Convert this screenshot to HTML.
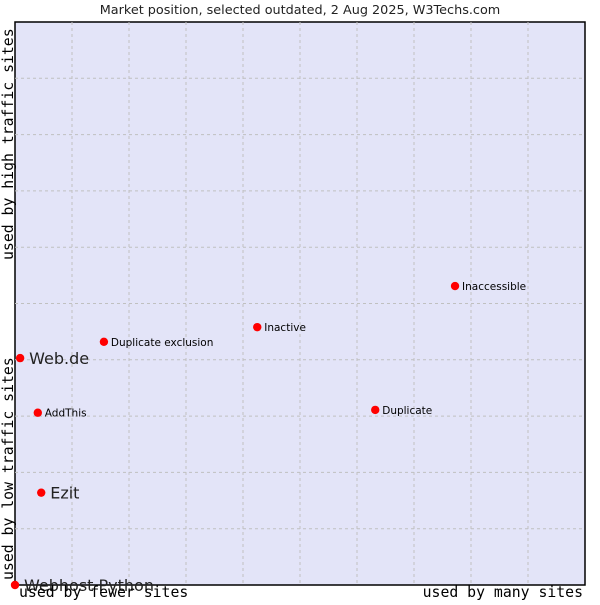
<!DOCTYPE html>
<html><head><meta charset="utf-8"><style>
body{margin:0;background:#fff}
svg text{font-family:"DejaVu Sans","Liberation Sans",sans-serif}
.mono{font-family:"DejaVu Sans Mono","Liberation Mono",monospace}
</style></head><body>
<svg id="chart" width="600" height="600">
<text x="300" y="14" text-anchor="middle" font-size="12.8" fill="#222">Market position, selected outdated, 2 Aug 2025, W3Techs.com</text>
<rect x="15" y="22" width="570" height="563" fill="#e3e4f8" stroke="#000" stroke-width="1.5"/>
<g id="grid"></g>
<g id="pts"></g>
<text class="mono" x="19" y="597" font-size="14.8" fill="#000">used by fewer sites</text>
<text class="mono" x="583" y="597" font-size="14.8" text-anchor="end" fill="#000">used by many sites</text>
<text class="mono" transform="translate(13,580) rotate(-90)" font-size="14.8" fill="#000">used by low traffic sites</text>
<text class="mono" transform="translate(13,260) rotate(-90)" font-size="14.8" fill="#000">used by high traffic sites</text>
</svg>
<script>
const names=["Web.de","AddThis","Ezit","Webhost Python","Duplicate exclusion","Inactive","Duplicate","Inaccessible"];
const xVals=[0.9,4.0,4.6,0,15.6,42.5,63.2,77.2];
const yVals=[40.3,30.6,16.4,0,43.2,45.8,31.1,53.1];
const bigLabel=[true,false,true,true,false,false,false,false];
const L=15,T=22,W=570,H=563;
const sx=v=>L+v/100*W, sy=v=>T+H-v/100*H;
const NS="http://www.w3.org/2000/svg";
const g=document.getElementById('grid');
for(let i=1;i<10;i++){
 const a=document.createElementNS(NS,'line');
 
 
 a.setAttribute('x1',sx(i*10));a.setAttribute('x2',sx(i*10));a.setAttribute('y1',T);a.setAttribute('y2',T+H);
 a.setAttribute('stroke','#c0c0c0');a.setAttribute('stroke-dasharray','3,3');g.appendChild(a);
 const b=document.createElementNS(NS,'line');
 
 
 b.setAttribute('y1',sy(i*10));b.setAttribute('y2',sy(i*10));b.setAttribute('x1',L);b.setAttribute('x2',L+W);
 b.setAttribute('stroke','#c0c0c0');b.setAttribute('stroke-dasharray','3,3');g.appendChild(b);
}
const p=document.getElementById('pts');
names.forEach((n,i)=>{
 const x=sx(xVals[i]),y=sy(yVals[i]);
 const c=document.createElementNS(NS,'circle');
 
 
 c.setAttribute('cx',x);c.setAttribute('cy',y);c.setAttribute('r',4.2);c.setAttribute('fill','#f00');
 p.appendChild(c);
 const t=document.createElementNS(NS,'text');
 
 
 const big=bigLabel[i];
 t.setAttribute('x',x+(big?9:7));t.setAttribute('y',y+(big?6:4));
 t.setAttribute('font-size',big?16:10.5);t.setAttribute('fill',big?'#222':'#000');
 t.textContent=n;p.appendChild(t);
});
</script>
</body></html>
